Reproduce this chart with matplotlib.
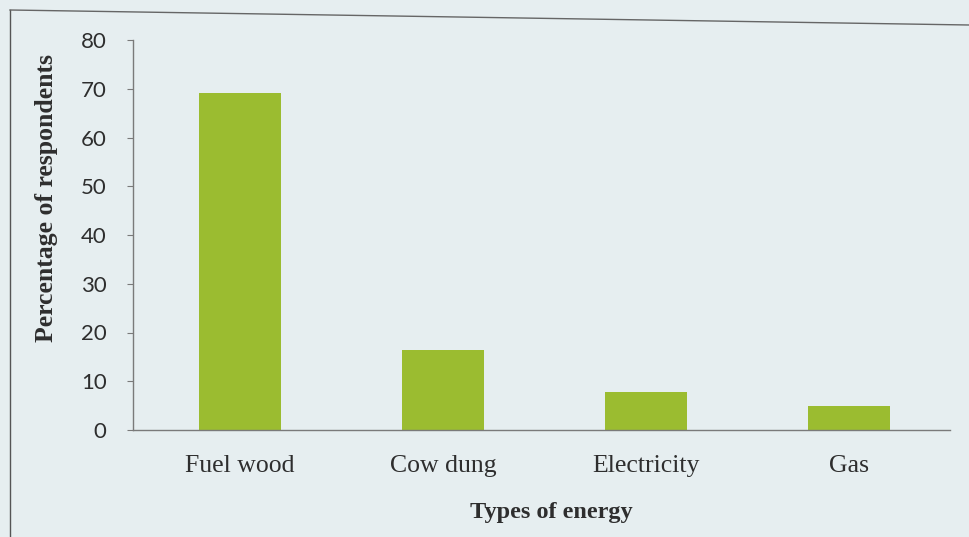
import matplotlib.pyplot as plt
from matplotlib.lines import Line2D

categories = ["Fuel wood", "Cow dung", "Electricity", "Gas"]
percentages = [69.2, 16.5, 7.7, 4.9]
y_ticks = [0, 10, 20, 30, 40, 50, 60, 70, 80]

W, H = 969, 537
bg = "#e6eef0"
bar_color = "#9bbc30"
text_color = "#2e2e2e"
spine_color = "#7a7a7a"

fig = plt.figure(figsize=(W / 100, H / 100), dpi=100, facecolor=bg)
ax = fig.add_axes([133 / W, 1 - 430 / H, (950 - 133) / W, (430 - 40) / H])
ax.set_facecolor(bg)

x = list(range(len(categories)))
ax.bar(x, percentages, width=0.40, color=bar_color, zorder=2)

ax.set_xlim(-0.527, 3.497)
ax.set_ylim(0, 80)
ax.set_yticks(y_ticks)
ax.set_yticklabels([str(t) for t in y_ticks], family="Lato", fontsize=16,
                   color=text_color)
ax.set_xticks(x)
ax.set_xticklabels(categories, family="Liberation Serif", fontsize=18.5,
                   color=text_color)

for side in ("top", "right"):
    ax.spines[side].set_visible(False)
for side in ("left", "bottom"):
    ax.spines[side].set_color(spine_color)
    ax.spines[side].set_linewidth(1.0)

ax.tick_params(axis="y", direction="out", length=4, width=0.8,
               color=spine_color, pad=15)
ax.tick_params(axis="x", length=0, pad=18)

ax.set_ylabel("Percentage of respondents", family="Liberation Serif",
              fontweight="bold", fontsize=18.5, color=text_color)
ax.yaxis.set_label_coords(-(133 - 58) / 817, (430 - 198) / 390)
ax.set_xlabel("Types of energy", family="Liberation Serif",
              fontweight="bold", fontsize=17.5, color=text_color)
ax.xaxis.set_label_coords((551 - 133) / 817, -(502 - 430) / 390)

# outer frame of the printed figure
fig.add_artist(Line2D([10 / W, 10 / W], [0, 1 - 10 / H],
                      transform=fig.transFigure, color="#555555", lw=1.0))
fig.add_artist(Line2D([10 / W, 1.0], [1 - 10 / H, 1 - 25 / H],
                      transform=fig.transFigure, color="#666666", lw=1.0))

fig.savefig("out.png", dpi=100, facecolor=bg)
